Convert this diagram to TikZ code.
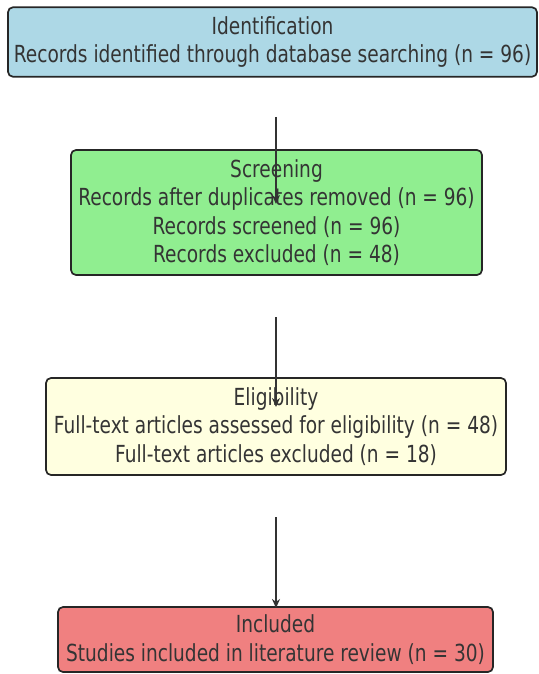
\documentclass[tikz,border=0pt]{standalone}
\usepackage{fontspec}
\setmainfont{DejaVu Sans}
\newfontfamily\stagefont[FakeStretch=0.79]{DejaVu Sans}
\usetikzlibrary{arrows.meta}
\definecolor{identblue}{RGB}{173,216,230}
\definecolor{screengreen}{RGB}{144,238,144}
\definecolor{eligyellow}{RGB}{255,255,224}
\definecolor{inclred}{RGB}{240,128,128}
\definecolor{textgray}{RGB}{52,52,52}

\begin{document}
\begin{tikzpicture}[
  x=1pt,y=-1pt,font=\stagefont\fontsize{23.5}{28.3}\selectfont,
  flow/.style={-{Stealth[length=9pt,width=8pt]},draw=black!80,line width=1.7pt},
  stage/.style={draw=black!85,line width=1.7pt,rounded corners=5pt,align=center,
                inner sep=2pt,text=textgray}
]
\useasboundingbox (0,0) rectangle (538,674);
% ---------- stages (top to bottom)
\node[stage,fill=identblue,minimum width=529pt,minimum height=69.5pt] (ident) at (272.5,42)
  {Identification\\Records identified through database searching (n = 96)};
\node[stage,fill=screengreen,minimum width=411pt,minimum height=125pt] (screen) at (276.5,212.5)
  {Screening\\Records after duplicates removed (n = 96)\\Records screened (n = 96)\\Records excluded (n = 48)};
\node[stage,fill=eligyellow,minimum width=460pt,minimum height=97pt] (elig) at (276,426.5)
  {Eligibility\\Full-text articles assessed for eligibility (n = 48)\\Full-text articles excluded (n = 18)};
\node[stage,fill=inclred,minimum width=435pt,minimum height=65pt] (incl) at (275.5,639.5)
  {Included\\Studies included in literature review (n = 30)};
% ---------- arrows (free ends)
\coordinate (a1top) at (276,117); \coordinate (a1tip) at (276,204);
\coordinate (a2top) at (276,317); \coordinate (a2tip) at (276,407);
\coordinate (a3top) at (276,517); \coordinate (a3tip) at (276,608);
\draw[flow] (a1top) -- (a1tip);
\draw[flow] (a2top) -- (a2tip);
\draw[flow] (a3top) -- (a3tip);
\end{tikzpicture}
\end{document}
